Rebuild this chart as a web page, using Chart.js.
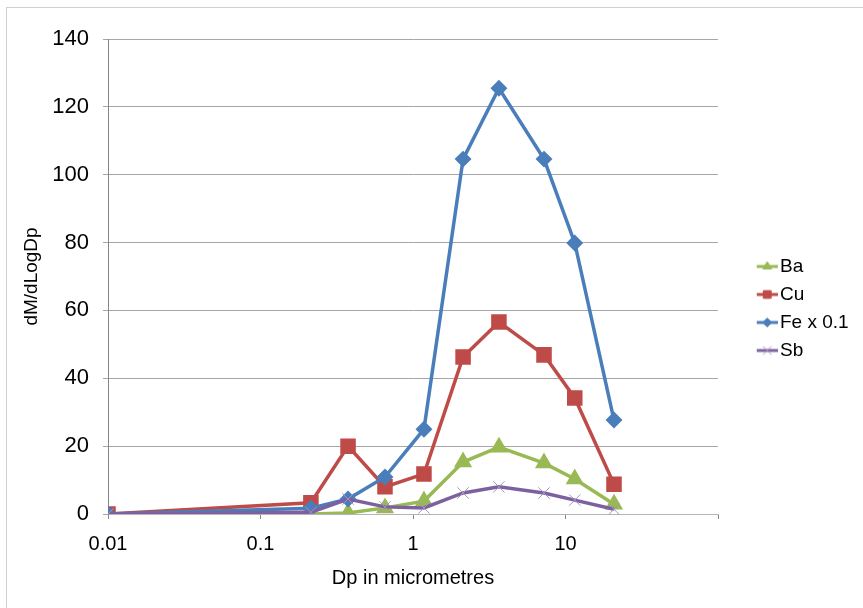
<!DOCTYPE html>
<html>
<head>
<meta charset="utf-8">
<script src="https://cdn.jsdelivr.net/npm/chart.js@4.4.0/dist/chart.umd.min.js"></script>
<style>
body { margin: 0; background: #fff; }
#wrap { width: 863px; height: 608px; }
</style>
</head>
<body>
<div id="wrap"><canvas id="myChart" width="863" height="608"></canvas></div>
<script>
// particle size (stage cut points, micrometres)
var sizes = [0.01, 0.214, 0.375, 0.655, 1.18, 2.13, 3.66, 7.23, 11.5, 20.8];
var ba = [null, 0, 0.3, 1.8, 3.8, 15.3, 19.7, 15.0, 10.3, 2.9];
var cu = [0, 3.3, 20, 8.0, 11.8, 46.3, 56.6, 46.9, 34.2, 8.8];
var fe = [0, 1.7, 4.4, 10.9, 25, 104.6, 125.5, 104.6, 79.9, 27.7]; // Fe x 0.1
var sb = [0, 0.5, 4.4, 2.1, 1.8, 6.2, 8.0, 6.2, 4.1, 1.4];
var seriesNames = ['Ba', 'Cu', 'Fe x 0.1', 'Sb'];
var xTicks = [0.01, 0.1, 1, 10, 100];
var xTickLabels = ['0.01', '0.1', '1', '10', ''];
var yTitle = 'dM/dLogDp';
var xTitle = 'Dp in micrometres';

var FONT = '"Liberation Sans", Arial, sans-serif';

function toPoints(vals) {
    return vals.map(function (v, i) { return { x: sizes[i], y: v }; });
}

// little line + marker picture for the legend
function legendGlyph(color, markerColor, style, radius, bw) {
    var c = document.createElement('canvas');
    c.width = 58;
    c.height = 16;
    var g = c.getContext('2d');
    g.strokeStyle = color;
    g.lineWidth = 3;
    g.beginPath();
    g.moveTo(37, 8);
    g.lineTo(58, 8);
    g.stroke();
    g.fillStyle = markerColor;
    g.strokeStyle = markerColor;
    g.lineWidth = bw;
    Chart.helpers.drawPoint(g, { pointStyle: style, radius: radius, rotation: 0, borderWidth: bw }, 47.5, 8);
    return c;
}

var borderBox = {
    id: 'borderBox',
    beforeDraw: function (chart) {
        var ctx = chart.ctx;
        ctx.save();
        ctx.fillStyle = '#fff';
        ctx.fillRect(0, 0, chart.width, chart.height);
        ctx.strokeStyle = '#d0d0d0';
        ctx.lineWidth = 1;
        ctx.strokeRect(6.5, 7.5, chart.width + 20, chart.height + 20);
        ctx.restore();
    }
};

var green = '#98B954', red = '#BE4B48', blue = '#4A7EBB', purple = '#7D60A0';

var datasets = [
    { label: seriesNames[0], data: toPoints(ba), borderColor: green, backgroundColor: green,
      pointStyle: 'triangle', pointRadius: 7, pointBorderColor: green, pointBackgroundColor: green, order: 3,
      glyph: legendGlyph(green, green, 'triangle', 5, 1) },
    { label: seriesNames[1], data: toPoints(cu), borderColor: red, backgroundColor: red,
      pointStyle: 'rect', pointRadius: 8.5, pointBorderColor: red, pointBackgroundColor: red, order: 2,
      glyph: legendGlyph(red, red, 'rect', 5.5, 1) },
    { label: seriesNames[2], data: toPoints(fe), borderColor: blue, backgroundColor: blue,
      pointStyle: 'rectRot', pointRadius: 6, pointBorderColor: blue, pointBackgroundColor: blue, order: 1,
      glyph: legendGlyph(blue, blue, 'rectRot', 4.5, 1) },
    { label: seriesNames[3], data: toPoints(sb), borderColor: purple, backgroundColor: purple,
      pointStyle: 'crossRot', pointRadius: 8, pointBorderColor: '#a594c4', pointBorderWidth: 1, order: 0,
      glyph: legendGlyph(purple, '#a594c4', 'crossRot', 6, 1) }
];

var chart = new Chart(document.getElementById('myChart').getContext('2d'), {
    type: 'line',
    data: { datasets: datasets },
    options: {
        responsive: false,
        animation: false,
        datasets: { line: { borderWidth: 3.5, tension: 0, spanGaps: true } },
        layout: { padding: { left: 0, top: 9, right: 20, bottom: 0 } },
        plugins: {
            title: { display: true, text: ' ', fullSize: false, font: { size: 10 }, padding: { top: 9, bottom: 9 } },
            tooltip: { enabled: false },
            legend: {
                position: 'right',
                labels: {
                    usePointStyle: true,
                    pointStyleWidth: 43.5,
                    padding: 9,
                    color: '#000',
                    font: { family: FONT, size: 19 },
                    generateLabels: function (ch) {
                        return ch.data.datasets.map(function (ds, i) {
                            return { text: ds.label, pointStyle: ds.glyph, fillStyle: ds.borderColor,
                                     strokeStyle: ds.borderColor, lineWidth: 0, hidden: false, datasetIndex: i };
                        });
                    }
                }
            }
        },
        scales: {
            x: {
                type: 'logarithmic',
                min: 0.01,
                max: 100,
                afterBuildTicks: function (scale) {
                    scale.ticks = xTicks.map(function (v) { return { value: v }; });
                },
                afterFit: function (scale) { scale.height = 94; },
                ticks: {
                    color: '#000',
                    padding: 13,
                    maxRotation: 0,
                    autoSkip: false,
                    font: { family: FONT, size: 20 },
                    callback: function (value, index) { return xTickLabels[index]; }
                },
                grid: { drawOnChartArea: false, drawTicks: true, tickLength: 5, color: '#868686' },
                border: { color: '#b4b4b4' },
                title: { display: true, text: xTitle, color: '#000', font: { family: FONT, size: 20 }, padding: { top: 0, bottom: 18 } }
            },
            y: {
                min: 0,
                max: 140,
                afterFit: function (scale) { scale.width = 108; },
                ticks: { stepSize: 20, color: '#000', padding: 14, font: { family: FONT, size: 22 } },
                grid: { color: '#a6a6a6', tickLength: 5 },
                border: { color: '#868686' },
                title: { display: true, text: yTitle, color: '#000', font: { family: FONT, size: 19 }, padding: { top: 20, bottom: 0 } }
            }
        }
    },
    plugins: [borderBox]
});

// line the plot area's right edge up with the picture
var shift = chart.chartArea.right - 718;
chart.options.layout.padding.right += shift;
chart.update();
</script>
</body>
</html>
